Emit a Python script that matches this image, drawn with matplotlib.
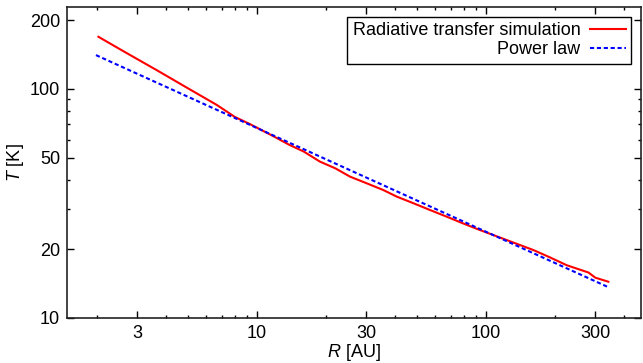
import matplotlib
matplotlib.use('Agg')
import matplotlib.pyplot as plt
from matplotlib.ticker import FixedLocator, FixedFormatter, LogLocator, NullFormatter

plt.rcParams['font.family'] = ['Liberation Sans', 'DejaVu Sans']
plt.rcParams['mathtext.fontset'] = 'custom'
plt.rcParams['mathtext.rm'] = 'Liberation Sans'
plt.rcParams['mathtext.it'] = 'Liberation Sans:italic'

# Radiative transfer simulation
r_sim = [2.03, 2.6, 3.65, 5.0, 6.67, 8.0, 9.3, 11.5, 13.9, 16, 18.8, 22, 25.5, 30,
         35.6, 40.7, 48.2, 57, 67.3, 80, 94.2, 123, 161, 190, 225, 255, 280, 300, 342]
t_sim = [169, 146.5, 120.8, 100.6, 85.2, 75.5, 70.3, 63.0, 56.9, 53.3, 48.2, 45.0, 41.4, 38.8,
         36.2, 33.9, 31.7, 29.6, 27.7, 25.8, 24.2, 21.9, 19.8, 18.4, 17.0, 16.3, 15.8, 15.0, 14.4]

# Power law end points
r_pow = [1.98, 341]
t_pow = [140.6, 13.65]

x_ticks = [3, 10, 30, 100, 300]
y_ticks = [10, 20, 50, 100, 200]

fig = plt.figure(figsize=(6.43, 3.63), dpi=100)
ax = fig.add_axes([0.1042, 0.124, 0.8927, 0.8567])

ax.plot(r_sim, t_sim, color='#ff0000', lw=1.5, label='Radiative transfer simulation')
ax.plot(r_pow, t_pow, color='#0000ff', lw=1.5, dashes=(2, 1.3), label='Power law')

ax.set_xscale('log')
ax.set_yscale('log')
ax.set_xlim(1.48, 475)
ax.set_ylim(10, 228)

ax.xaxis.set_major_locator(FixedLocator(x_ticks))
ax.xaxis.set_major_formatter(FixedFormatter([str(v) for v in x_ticks]))
ax.yaxis.set_major_locator(FixedLocator(y_ticks))
ax.yaxis.set_major_formatter(FixedFormatter([str(v) for v in y_ticks]))
ax.xaxis.set_minor_locator(LogLocator(base=10, subs=range(1, 10)))
ax.yaxis.set_minor_locator(LogLocator(base=10, subs=range(1, 10)))
ax.xaxis.set_minor_formatter(NullFormatter())
ax.yaxis.set_minor_formatter(NullFormatter())

ax.tick_params(which='both', direction='in', top=True, right=True, labelsize=13, width=1)
ax.tick_params(which='major', length=5, pad=5)
ax.tick_params(which='minor', length=2.5)
for s in ax.spines.values():
    s.set_linewidth(1.2)
    s.set_color('#222222')

ax.set_xlabel(r'$R$ [AU]', fontsize=13, labelpad=0)
ax.set_ylabel(r'$T$ [K]', fontsize=13, labelpad=3)

leg = ax.legend(loc='upper right', markerfirst=False, fontsize=13, frameon=True,
                fancybox=False, edgecolor='black', framealpha=1, handlelength=2.0,
                borderaxespad=0.55, labelspacing=0.1, borderpad=0.3, handletextpad=0.5)
leg.get_frame().set_linewidth(1.0)

fig.savefig('out.png', dpi=100)
